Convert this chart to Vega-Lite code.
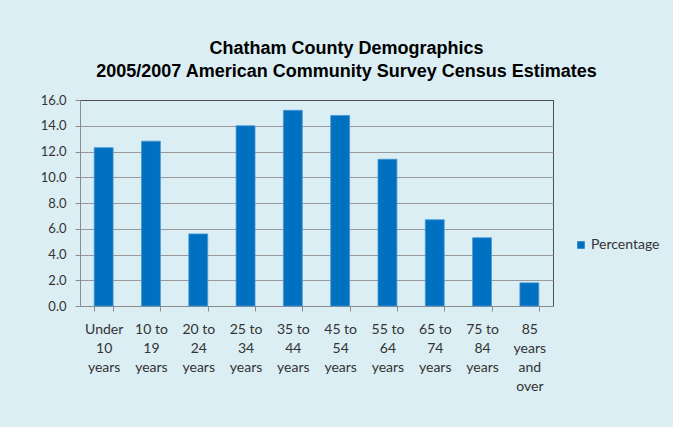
{
  "$schema": "https://vega.github.io/schema/vega-lite/v6.json",
  "width": 473,
  "height": 206,
  "autosize": {"type": "none"},
  "padding": {"left": 80, "top": 100, "right": 120, "bottom": 121},
  "background": "#dbeef3",
  "title": {
    "text": ["Chatham County Demographics", "2005/2007 American Community Survey Census Estimates"],
    "font": "Liberation Sans",
    "fontSize": 18,
    "fontWeight": "bold",
    "color": "#000000",
    "anchor": "middle",
    "dx": 30,
    "offset": 13,
    "lineHeight": 23
  },
  "data": {
    "values": [
      {"age": "Under|10|years", "pct": 12.3, "series": "Percentage"},
      {"age": "10 to|19|years", "pct": 12.8, "series": "Percentage"},
      {"age": "20 to|24|years", "pct": 5.6, "series": "Percentage"},
      {"age": "25 to|34|years", "pct": 14.0, "series": "Percentage"},
      {"age": "35 to|44|years", "pct": 15.2, "series": "Percentage"},
      {"age": "45 to|54|years", "pct": 14.8, "series": "Percentage"},
      {"age": "55 to|64|years", "pct": 11.4, "series": "Percentage"},
      {"age": "65 to|74|years", "pct": 6.7, "series": "Percentage"},
      {"age": "75 to|84|years", "pct": 5.3, "series": "Percentage"},
      {"age": "85|years|and|over", "pct": 1.8, "series": "Percentage"}
    ]
  },
  "mark": {"type": "bar", "stroke": "#4a98d4", "strokeWidth": 0.8},
  "encoding": {
    "x": {
      "field": "age",
      "type": "nominal",
      "sort": null,
      "scale": {"paddingInner": 0.6, "paddingOuter": 0.3},
      "axis": {
        "title": null,
        "labelAngle": 0,
        "labelExpr": "split(datum.label, '|')",
        "tickBand": "extent",
        "grid": false,
        "domainColor": "#8c8c8c",
        "tickColor": "#8c8c8c",
        "tickSize": 5,
        "labelFont": "Lato",
        "labelFontSize": 14,
        "labelColor": "#333333",
        "labelPadding": 11,
        "labelLineHeight": 19,
        "labelBaseline": "top"
      }
    },
    "y": {
      "field": "pct",
      "type": "quantitative",
      "scale": {"domain": [0, 16]},
      "axis": {
        "title": null,
        "values": [0, 2, 4, 6, 8, 10, 12, 14, 16],
        "format": ".1f",
        "grid": true,
        "gridColor": {"condition": {"test": "datum.value == 16", "value": "#4d4d4d"}, "value": "#9a9a9a"},
        "gridWidth": 1,
        "domainColor": "#8c8c8c",
        "tickColor": "#8c8c8c",
        "tickSize": 5,
        "labelFont": "Lato",
        "labelFontSize": 13,
        "labelColor": "#333333",
        "labelPadding": 9
      }
    },
    "color": {
      "field": "series",
      "type": "nominal",
      "scale": {"range": ["#0070c0"]},
      "legend": {
        "title": null,
        "orient": "none",
        "legendX": 494,
        "legendY": 138,
        "symbolType": "square",
        "symbolSize": 56,
        "symbolStrokeWidth": 0,
        "labelOffset": 3,
        "labelFont": "Lato",
        "labelFontSize": 14,
        "labelColor": "#333333"
      }
    }
  },
  "config": {
    "view": {"stroke": "#4d4d4d", "strokeWidth": 1}
  }
}
